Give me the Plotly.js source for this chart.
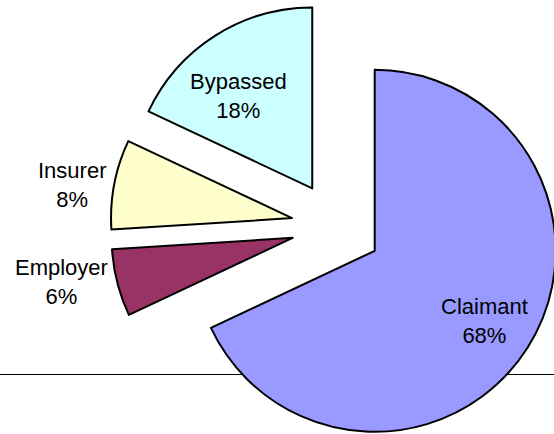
<!DOCTYPE html>
<html>
<head>
<meta charset="utf-8">
<script src="https://cdn.plot.ly/plotly-3.0.1.min.js"></script>
<style>
  html, body { margin: 0; padding: 0; width: 554px; height: 434px; overflow: hidden; background: #ffffff; }
  #chart { position: absolute; left: 0px; top: -30px; width: 700px; height: 520px; }
</style>
</head>
<body>
<div id="chart"></div>
<script>
// Data
const categories = ["Claimant", "Employer", "Insurer", "Bypassed"];
const shares = [68, 6, 8, 18];
const sliceColors = ["#9999FF", "#993366", "#FFFFCC", "#CCFFFF"];

// Label placement (style): radial distance as a fraction of radius from the slice tip, and angular nudge (deg)
const labelRadius = [0.718, 1.298, 1.229, 0.652];
const labelAngleNudge = [0.3, 3.6, -2.2, -6.0];

const W = 700, H = 520;
const PULL = 0.25;
const box = { x0: 110.25, x1: 562.75, y0: 30.35, y1: 482.85 }; // pixel box of the pie domain
const domain = { x: [box.x0 / W, box.x1 / W], y: [(H - box.y1) / H, (H - box.y0) / H] };

// Geometry as computed by Plotly for a pie: r = min(w,h) / (2 + 2*maxPull)
const cx = (box.x0 + box.x1) / 2, cy = (box.y0 + box.y1) / 2;
const r = Math.min(box.x1 - box.x0, box.y1 - box.y0) / (2 + 2 * PULL);
const total = shares.reduce((a, b) => a + b, 0);

const annotations = [];
let acc = 0;
shares.forEach((v, i) => {
  const mid = (acc + v / 2) / total * 360;
  acc += v;
  const m = mid * Math.PI / 180;
  const tipX = cx + PULL * r * Math.sin(m);
  const tipY = cy - PULL * r * Math.cos(m);
  const a = (mid + labelAngleNudge[i]) * Math.PI / 180;
  const lx = tipX + labelRadius[i] * r * Math.sin(a);
  const ly = tipY - labelRadius[i] * r * Math.cos(a);
  annotations.push({
    xref: "paper", yref: "paper",
    x: lx / W, y: 1 - ly / H,
    xanchor: "center", yanchor: "middle", align: "center",
    showarrow: false,
    text: categories[i] + "<br>" + Math.round(v / total * 100) + "%",
    font: { family: "Liberation Sans, Arial, sans-serif", size: 22, color: "#000000" }
  });
});

const trace = {
  type: "pie",
  labels: categories,
  values: shares,
  sort: false,
  direction: "clockwise",
  rotation: 0,
  pull: shares.map(() => PULL),
  marker: { colors: sliceColors, line: { color: "#000000", width: 2 } },
  textinfo: "none",
  hoverinfo: "label+percent",
  showlegend: false,
  domain: domain
};

const layout = {
  width: W,
  height: H,
  margin: { l: 0, r: 0, t: 0, b: 0, pad: 0 },
  paper_bgcolor: "#ffffff",
  showlegend: false,
  annotations: annotations,
  shapes: [{
    type: "line", xref: "paper", yref: "paper", layer: "below",
    x0: 0, x1: 554 / W, y0: (H - 404.5) / H, y1: (H - 404.5) / H,
    line: { color: "#000000", width: 1 }
  }]
};

Plotly.newPlot("chart", [trace], layout, { displayModeBar: false, staticPlot: true });
</script>
</body>
</html>
